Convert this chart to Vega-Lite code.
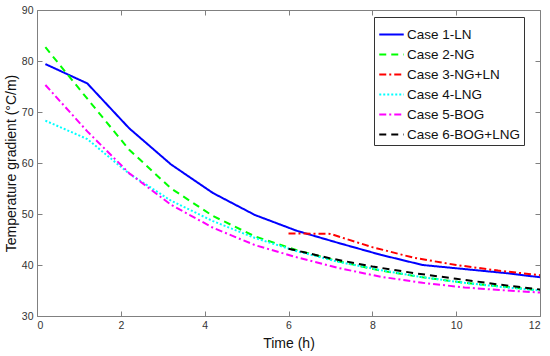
{
  "$schema": "https://vega.github.io/schema/vega-lite/v6.json",
  "width": 503,
  "height": 306,
  "autosize": {"type": "none"},
  "padding": {"left": 37, "top": 10, "right": 10, "bottom": 40},
  "background": "white",
  "config": {
    "view": {"stroke": "#808080", "strokeWidth": 1},
    "font": "Liberation Sans",
    "axis": {"grid": false, "labelFont": "Liberation Sans", "titleFont": "Liberation Sans", "labelColor": "#333", "titleColor": "#111", "domainColor": "#808080", "tickColor": "#808080", "labelFontSize": 10.5, "titleFontSize": 14, "titleFontWeight": "normal"}
  },
  "data": {"values": [
    {"s": "Case 1-LN", "t": 0.2, "v": 79.4}, {"s": "Case 1-LN", "t": 1.2, "v": 75.6}, {"s": "Case 1-LN", "t": 2.2, "v": 66.8}, {"s": "Case 1-LN", "t": 3.2, "v": 59.7}, {"s": "Case 1-LN", "t": 4.2, "v": 54.1}, {"s": "Case 1-LN", "t": 5.2, "v": 49.8}, {"s": "Case 1-LN", "t": 6.2, "v": 46.7}, {"s": "Case 1-LN", "t": 7.2, "v": 44.3}, {"s": "Case 1-LN", "t": 8.2, "v": 42.0}, {"s": "Case 1-LN", "t": 9.2, "v": 40.0}, {"s": "Case 1-LN", "t": 10.2, "v": 39.2}, {"s": "Case 1-LN", "t": 11.2, "v": 38.4}, {"s": "Case 1-LN", "t": 12, "v": 37.6},
    {"s": "Case 2-NG", "t": 0.2, "v": 82.7}, {"s": "Case 2-NG", "t": 1.2, "v": 72.6}, {"s": "Case 2-NG", "t": 2.2, "v": 62.6}, {"s": "Case 2-NG", "t": 3.2, "v": 55.0}, {"s": "Case 2-NG", "t": 4.2, "v": 49.6}, {"s": "Case 2-NG", "t": 5.2, "v": 45.6}, {"s": "Case 2-NG", "t": 6.2, "v": 42.9}, {"s": "Case 2-NG", "t": 7.2, "v": 40.7}, {"s": "Case 2-NG", "t": 8.2, "v": 38.9}, {"s": "Case 2-NG", "t": 9.2, "v": 37.6}, {"s": "Case 2-NG", "t": 10.2, "v": 36.5}, {"s": "Case 2-NG", "t": 11.2, "v": 35.7}, {"s": "Case 2-NG", "t": 12, "v": 35.0},
    {"s": "Case 3-NG+LN", "t": 6.0, "v": 46.2}, {"s": "Case 3-NG+LN", "t": 7.0, "v": 46.1}, {"s": "Case 3-NG+LN", "t": 8.0, "v": 43.5}, {"s": "Case 3-NG+LN", "t": 9.0, "v": 41.4}, {"s": "Case 3-NG+LN", "t": 10.0, "v": 40.0}, {"s": "Case 3-NG+LN", "t": 11.0, "v": 38.9}, {"s": "Case 3-NG+LN", "t": 12, "v": 38.0},
    {"s": "Case 4-LNG", "t": 0.2, "v": 68.3}, {"s": "Case 4-LNG", "t": 1.2, "v": 64.7}, {"s": "Case 4-LNG", "t": 2.2, "v": 57.9}, {"s": "Case 4-LNG", "t": 3.2, "v": 52.6}, {"s": "Case 4-LNG", "t": 4.2, "v": 48.6}, {"s": "Case 4-LNG", "t": 5.2, "v": 45.3}, {"s": "Case 4-LNG", "t": 6.2, "v": 42.7}, {"s": "Case 4-LNG", "t": 7.2, "v": 40.6}, {"s": "Case 4-LNG", "t": 8.2, "v": 39.0}, {"s": "Case 4-LNG", "t": 9.2, "v": 37.6}, {"s": "Case 4-LNG", "t": 10.2, "v": 36.5}, {"s": "Case 4-LNG", "t": 11.2, "v": 35.6}, {"s": "Case 4-LNG", "t": 12, "v": 35.0},
    {"s": "Case 5-BOG", "t": 0.2, "v": 75.3}, {"s": "Case 5-BOG", "t": 1.2, "v": 66.2}, {"s": "Case 5-BOG", "t": 2.2, "v": 58.0}, {"s": "Case 5-BOG", "t": 3.2, "v": 51.8}, {"s": "Case 5-BOG", "t": 4.2, "v": 47.3}, {"s": "Case 5-BOG", "t": 5.2, "v": 43.9}, {"s": "Case 5-BOG", "t": 6.2, "v": 41.5}, {"s": "Case 5-BOG", "t": 7.2, "v": 39.4}, {"s": "Case 5-BOG", "t": 8.2, "v": 37.7}, {"s": "Case 5-BOG", "t": 9.2, "v": 36.5}, {"s": "Case 5-BOG", "t": 10.2, "v": 35.6}, {"s": "Case 5-BOG", "t": 11.2, "v": 35.0}, {"s": "Case 5-BOG", "t": 12, "v": 34.6},
    {"s": "Case 6-BOG+LNG", "t": 6.0, "v": 43.2}, {"s": "Case 6-BOG+LNG", "t": 7.0, "v": 41.3}, {"s": "Case 6-BOG+LNG", "t": 8.0, "v": 39.7}, {"s": "Case 6-BOG+LNG", "t": 9.0, "v": 38.4}, {"s": "Case 6-BOG+LNG", "t": 10.0, "v": 37.3}, {"s": "Case 6-BOG+LNG", "t": 11.0, "v": 36.2}, {"s": "Case 6-BOG+LNG", "t": 12, "v": 35.2}
  ]},
  "layer": [
    {
      "mark": {"type": "line", "strokeWidth": 2, "clip": true},
      "encoding": {
        "x": {"field": "t", "type": "quantitative", "scale": {"domain": [0, 12], "nice": false}, "axis": {"title": "Time (h)", "values": [0, 2, 4, 6, 8, 10, 12], "tickSize": -5, "labelPadding": 9, "titlePadding": 6, "domain": false}},
        "y": {"field": "v", "type": "quantitative", "scale": {"domain": [30, 90], "nice": false, "zero": false}, "axis": {"title": "Temperature gradient (°C/m)", "values": [30, 40, 50, 60, 70, 80, 90], "tickSize": -5, "labelPadding": 9, "titlePadding": 3, "domain": false}},
        "color": {"field": "s", "type": "nominal", "scale": {"domain": ["Case 1-LN", "Case 2-NG", "Case 3-NG+LN", "Case 4-LNG", "Case 5-BOG", "Case 6-BOG+LNG"], "range": ["#0000ff", "#00ff00", "#ff0000", "#00ffff", "#ff00ff", "#000000"]},
          "legend": {"title": null, "orient": "none", "legendX": 337, "legendY": 7, "symbolType": "stroke", "symbolSize": 600, "symbolStrokeWidth": 2, "labelFontSize": 13.5, "labelFont": "Liberation Sans", "labelColor": "#111", "strokeColor": "#333", "fillColor": "white", "padding": 4, "rowPadding": 0, "labelOffset": 2}},
        "strokeDash": {"field": "s", "type": "nominal", "scale": {"domain": ["Case 1-LN", "Case 2-NG", "Case 3-NG+LN", "Case 4-LNG", "Case 5-BOG", "Case 6-BOG+LNG"], "range": [[1, 0], [7, 5], [7, 3, 2, 3], [2, 2], [7, 3, 2, 3], [7, 5]]}, "legend": {"title": null, "orient": "none", "legendX": 337, "legendY": 7, "symbolType": "stroke", "symbolSize": 600, "symbolStrokeWidth": 2, "labelFontSize": 13.5, "labelFont": "Liberation Sans", "labelColor": "#111", "strokeColor": "#333", "fillColor": "white", "padding": 4, "rowPadding": 0, "labelOffset": 2}}
      }
    },
    {
      "mark": {"type": "point", "opacity": 0},
      "encoding": {
        "x": {"field": "t", "type": "quantitative", "axis": {"orient": "top", "title": null, "labels": false, "values": [0, 2, 4, 6, 8, 10, 12], "tickSize": -5, "domain": false}},
        "y": {"field": "v", "type": "quantitative", "axis": {"orient": "right", "title": null, "labels": false, "values": [30, 40, 50, 60, 70, 80, 90], "tickSize": -5, "domain": false}}
      }
    }
  ],
  "resolve": {"axis": {"x": "independent", "y": "independent"}}
}
